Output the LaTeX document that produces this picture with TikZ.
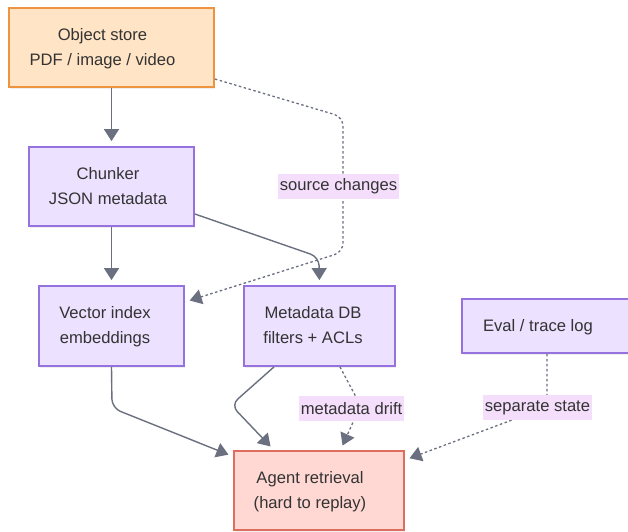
\documentclass[tikz,border=0pt]{standalone}
\usepackage{fontspec}
\setmainfont{Liberation Sans}
\usetikzlibrary{arrows.meta,shadows}
\definecolor{pfill}{HTML}{ECE1FE}
\definecolor{pdraw}{HTML}{9672DE}
\definecolor{ofill}{HTML}{FFE4C6}
\definecolor{odraw}{HTML}{EE9440}
\definecolor{rfill}{HTML}{FFD8D3}
\definecolor{rdraw}{HTML}{DD6E5E}
\definecolor{lblbg}{HTML}{F4DEFB}
\definecolor{edgec}{HTML}{6B7080}
\definecolor{txt}{HTML}{333333}
\newcommand\boxtxt[2]{\begin{tabular}{@{}c@{}}#2\end{tabular}\kern#1\relax}
\tikzset{
  basebox/.style={draw, line width=1.8pt, inner sep=0pt, text=txt,
    font=\fontsize{16.6}{25}\selectfont,
    drop shadow={opacity=0.12, shadow xshift=1.2pt, shadow yshift=-1.5pt}},
  pbox/.style={basebox, fill=pfill, draw=pdraw},
  obox/.style={basebox, fill=ofill, draw=odraw},
  rbox/.style={basebox, fill=rfill, draw=rdraw},
  lbl/.style={fill=lblbg, text=txt, inner xsep=1.5pt, inner ysep=0pt,
    minimum height=25pt, font=\fontsize{16.6}{25}\selectfont},
  edge/.style={draw=edgec, line width=1.4pt, rounded corners=9pt,
    -{Triangle[width=15pt,length=12pt]}, shorten >=5pt},
  dedge/.style={edge, line width=1.3pt, dash pattern=on 2.5pt off 2.5pt}
}
\begin{document}
\begin{tikzpicture}[x=1pt,y=-1pt]
\useasboundingbox (0,0) rectangle (628,531);
\fill[white] (0,0) rectangle (628,531);
% nodes
\node[obox, minimum width=205pt, minimum height=79pt] (obj) at (111.5,47.5)
  {\boxtxt{18pt}{Object store\\PDF / image / video}};
\node[pbox, minimum width=165pt, minimum height=79pt] (chunk) at (111.5,186.5)
  {\boxtxt{7pt}{Chunker\\JSON metadata}};
\node[pbox, minimum width=145pt, minimum height=80pt] (vec) at (111.5,326)
  {\boxtxt{13pt}{Vector index\\embeddings}};
\node[pbox, minimum width=151pt, minimum height=80pt] (meta) at (319.5,326)
  {\boxtxt{13pt}{Metadata DB\\filters + ACLs}};
\node[pbox, minimum width=170pt, minimum height=54pt] (eval) at (547,326)
  {\boxtxt{18pt}{Eval / trace log}};
\node[rbox, minimum width=170pt, minimum height=79pt] (agent) at (319,490.5)
  {\boxtxt{18pt}{Agent retrieval\\(hard to replay)}};
% connectors
\draw[edge] (obj.south) -- (chunk.north);
\draw[edge] (chunk.south) -- (vec.north);
\draw[edge] ([yshift=-27.5pt]chunk.east) -- (319,257) -- (meta.north);
\draw[dedge] ([yshift=-31.5pt]obj.east) -- (343,117) -- (343,252) -- ([yshift=24pt]vec.east);
\draw[edge] (vec.south) -- (112,408) -- ([yshift=34pt]agent.west);
\draw[edge] ([xshift=-45.5pt]meta.south) -- (231,405) -- ([xshift=-45pt]agent.north);
\draw[dedge, rounded corners=0pt] ([xshift=20.5pt]meta.south) -- (356,397) -- (354,420) -- ([xshift=21.5pt]agent.north);
\draw[dedge, rounded corners=0pt] (eval.south) -- (547,396) -- (512,420) -- ([yshift=30.5pt]agent.east);
% labels
\node[lbl] (lsrc) at (338.5,186.5) {source changes};
\node[lbl] (ldrift) at (351.5,408.5) {metadata drift};
\node[lbl] (lsep) at (537.5,407.5) {separate state};
\end{tikzpicture}
\end{document}
